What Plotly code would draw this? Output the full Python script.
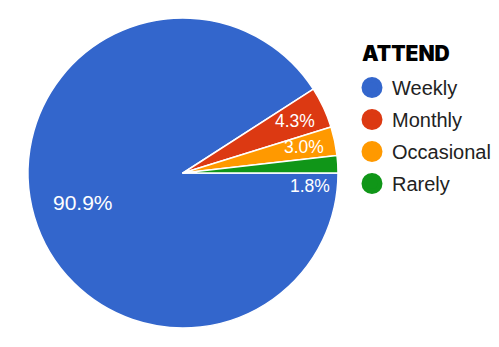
import math
import plotly.graph_objects as go

categories = ["Weekly", "Monthly", "Occasional", "Rarely"]
values = [90.9, 4.3, 3.0, 1.8]
colors = ["#3366CC", "#DC3912", "#FF9900", "#109618"]
legend_title = "ATTEND"

W, H = 499, 347
dom_x = [28 / W, 338 / W]
dom_y = [19 / H, 329 / H]

fig = go.Figure()
fig.add_trace(go.Pie(
    labels=categories, values=values, sort=False,
    direction="clockwise", rotation=90,
    marker=dict(colors=colors, line=dict(color="white", width=1.5)),
    textinfo="none", textposition="none",
    showlegend=False, hoverinfo="label+percent",
    domain=dict(x=dom_x, y=dom_y),
))

# slice labels placed from the pie geometry
cx = (dom_x[0] + dom_x[1]) / 2 * W
cy = (dom_y[0] + dom_y[1]) / 2 * H  # from bottom
R = min((dom_x[1] - dom_x[0]) * W, (dom_y[1] - dom_y[0]) * H) / 2
total = sum(values)
cum = 0.0
for v in values:
    frac = v / total
    mid_cw = (cum + frac / 2) * 360.0
    cum += frac
    ang = math.radians(-mid_cw)  # counterclockwise math angle from 3 o'clock
    big = frac > 0.5
    rf = 0.675 if big else 0.8
    px = cx + rf * R * math.cos(ang)
    py = cy + rf * R * math.sin(ang)
    if frac < 0.025:
        # too thin: put it just below the slice, as the reference does
        py = cy - 13
        px = cx + 0.82 * R
    fig.add_annotation(
        x=px / W, y=py / H, xref="paper", yref="paper",
        text=f"{v:.1f}%", showarrow=False,
        font=dict(color="white", size=21 if big else 17.5, family="Liberation Sans, Arial"),
        xanchor="center", yanchor="middle",
    )

# legend title
fig.add_annotation(
    x=360 / W, y=1 - 53 / H, xref="paper", yref="paper",
    text=legend_title, showarrow=False, xanchor="left", yanchor="middle",
    font=dict(family="Inter", size=21, color="black", weight=900),
)

for c, col in zip(categories, colors):
    fig.add_trace(go.Scatter(x=[None], y=[None], mode="markers", name=c, legendgroup=c,
                             marker=dict(color=col, size=16, symbol="circle",
                                         line=dict(color=col, width=5))))
fig.update_layout(
    width=W, height=H, margin=dict(l=0, r=0, t=0, b=0),
    paper_bgcolor="white", plot_bgcolor="white",
    xaxis=dict(visible=False), yaxis=dict(visible=False),
    font=dict(family="Liberation Sans, Arial", size=20, color="#222222"),
    legend=dict(
        x=352 / W, y=1 - 68 / H, xanchor="left", yanchor="top",
        itemsizing="trace", tracegroupgap=3,
        font=dict(size=20, color="#222222"),
        bgcolor="rgba(0,0,0,0)",
    ),
)
fig.write_html("out.html")
